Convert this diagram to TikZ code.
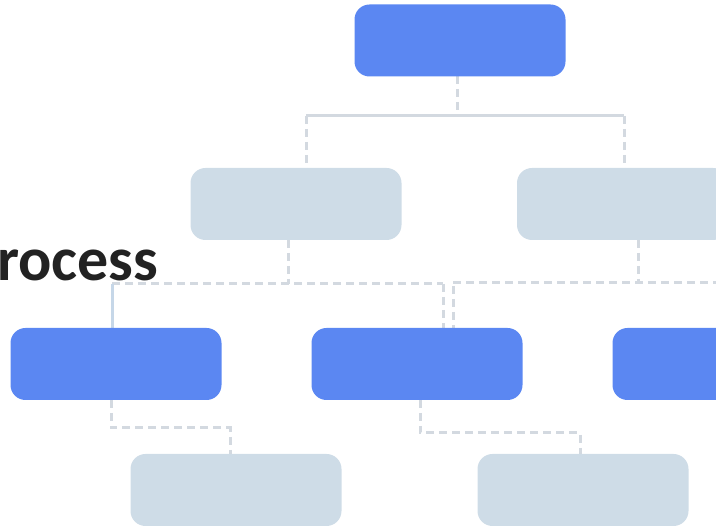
\documentclass[tikz,border=0pt]{standalone}
\usepackage{fontspec}
\newfontfamily\headfont{Carlito}
\usetikzlibrary{positioning}
\definecolor{boxblue}{HTML}{5B87F2}
\definecolor{boxgrey}{HTML}{CEDCE7}
\definecolor{linegrey}{HTML}{D3D9E0}
\definecolor{lineblue}{HTML}{C6D7E8}
\definecolor{inkdark}{HTML}{222222}

\begin{document}
\begin{tikzpicture}[x=1pt,y=-1pt,
  blk/.style={rectangle,rounded corners=15pt,minimum width=211pt,
              minimum height=72pt,inner sep=0pt,draw=none},
  hi/.style={blk,fill=boxblue},
  lo/.style={blk,fill=boxgrey},
  dashln/.style={linegrey,line width=3pt,dash pattern=on 8pt off 5pt},
  solidln/.style={linegrey,line width=3pt},
  blueln/.style={lineblue,line width=3pt}
]
\useasboundingbox (0,0) rectangle (716,526);
\clip (0,0) rectangle (716,526);

% ---- Heading ------------------------------------------------
\node[anchor=base west,inner sep=0pt,text=inkdark,
      font=\headfont\fontsize{62}{62}\selectfont\bfseries] (ttl) at (-3,281) {rocess};

% ---- Junction points ----------------------------------------
\coordinate (hub) at (457,116);
\coordinate (tl)  at (306,116);
\coordinate (tr)  at (624,116);
\coordinate (ja)  at (288,284);
\coordinate (jl)  at (112,284);
\coordinate (jm)  at (443,284);
\coordinate (jb)  at (638,283);
\coordinate (jn)  at (453,286);
\coordinate (jr)  at (740,283);
\coordinate (k1)  at (111,428);
\coordinate (k2)  at (230,428);
\coordinate (k3)  at (420,433);
\coordinate (k4)  at (580,433);

% ---- Connectors ---------------------------------------------
\draw[dashln]  (hub |- 0,76) -- (hub);
\draw[solidln] (tl) -- (tr);
\draw[dashln]  (tl) -- (tl |- 0,172);
\draw[dashln]  (tr) -- (tr |- 0,172);

\draw[dashln]  (ja |- 0,240) -- (ja);
\draw[dashln]  (jl) -- (jm);
\draw[blueln]  (jl) -- (jl |- 0,330);
\draw[dashln]  (jm) -- (jm |- 0,330);

\draw[dashln]  (jb |- 0,240) -- (jb);
\draw[dashln]  (jn |- jb) -- (jr);
\draw[dashln]  (jn) -- (jn |- 0,330);

\draw[dashln]  (k1 |- 0,400) -- (k1) -- (k2) -- (k2 |- 0,456);
\draw[dashln]  (k3 |- 0,400) -- (k3) -- (k4) -- (k4 |- 0,456);

% ---- Level 1 ------------------------------------------------
\node[hi] (root) at (460,40.5) {};

% ---- Level 2 ------------------------------------------------
\node[lo] (midl) at (296,204) {};
\node[lo] (midr) at (622.5,204) {};

% ---- Level 3 ------------------------------------------------
\node[hi] (lowl) at (116,364) {};
\node[hi] (lowm) at (417,364) {};
\node[hi] (lowr) at (718,364) {};

% ---- Level 4 ------------------------------------------------
\node[lo] (leafl) at (236,490) {};
\node[lo] (leafr) at (583,490) {};

\end{tikzpicture}
\end{document}
